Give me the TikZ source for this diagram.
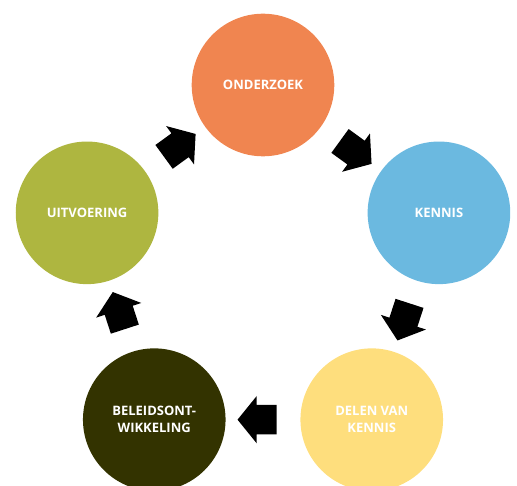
\documentclass[tikz,border=0pt]{standalone}
\usepackage{fontspec}
\setmainfont{Open Sans}
\usetikzlibrary{shapes.arrows,calc}
\definecolor{oranje}{RGB}{240,133,80}
\definecolor{blauw}{RGB}{107,185,224}
\definecolor{geel}{RGB}{254,222,125}
\definecolor{donker}{RGB}{51,51,0}
\definecolor{olijf}{RGB}{174,182,64}
\begin{document}
\begin{tikzpicture}[
    stage/.style={circle, minimum size=142.6pt, inner sep=0pt, text=white,
      font=\fontsize{13}{17}\selectfont\bfseries, align=center},
    flow/.style={single arrow, fill=black, inner xsep=0pt, inner ysep=14.5pt,
      minimum height=39pt, single arrow head extend=9pt, single arrow tip angle=102}]
    \clip (-263pt,-215pt) rectangle (254pt,270pt);
    \node[stage, fill=oranje] (onderzoek) at (90:185pt) {ONDERZOEK};
    \node[stage, fill=blauw] (kennis) at (18:185pt) {KENNIS};
    \node[stage, fill=geel] (delen) at (-54:185pt) {DELEN VAN\\KENNIS};
    \node[stage, fill=donker] (beleid) at (-126:185pt) {BELEIDSONT-\\WIKKELING};
    \node[stage, fill=olijf] (uitvoering) at (162:185pt) {UITVOERING};
    \node[flow, rotate=-36] (pijl1) at ($(onderzoek)!0.5!(kennis)$) {};
    \node[flow, rotate=-108] (pijl2) at ($(kennis)!0.5!(delen)$) {};
    \node[flow, rotate=180] (pijl3) at ($(delen)!0.5!(beleid)$) {};
    \node[flow, rotate=108] (pijl4) at ($(beleid)!0.5!(uitvoering)$) {};
    \node[flow, rotate=36] (pijl5) at ($(uitvoering)!0.5!(onderzoek)$) {};
\end{tikzpicture}
\end{document}
